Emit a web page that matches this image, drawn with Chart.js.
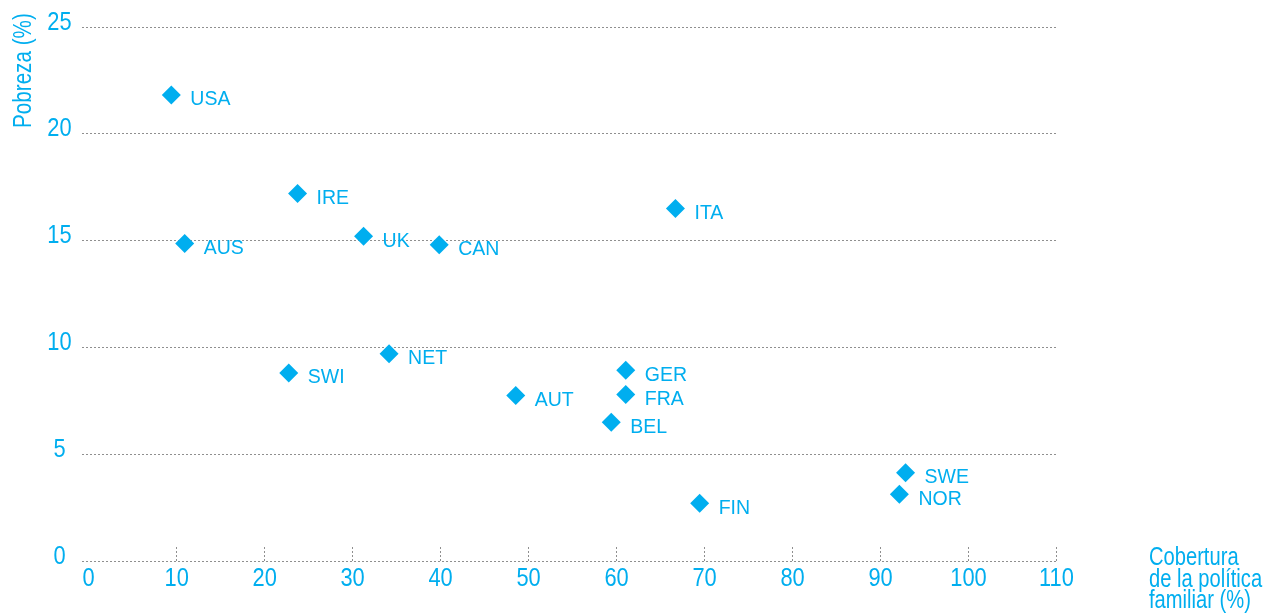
<!DOCTYPE html>
<html>
<head>
<meta charset="utf-8">
<script src="https://cdn.jsdelivr.net/npm/chart.js@4/dist/chart.umd.min.js"></script>
<style>
  html, body { margin: 0; padding: 0; background: #fff; }
  #wrap { width: 1275px; height: 616px; position: relative; }
</style>
</head>
<body>
<div id="wrap"><canvas id="c"></canvas></div>
<script>
const countries = ['USA','IRE','AUS','UK','CAN','ITA','NET','SWI','AUT','GER','FRA','BEL','SWE','NOR','FIN'];
const coverage  = [9.45, 23.8, 10.97, 31.3, 39.9, 66.75, 34.2, 22.8, 48.6, 61.1, 61.1, 59.45, 92.9, 92.2, 69.5];
const poverty   = [21.82, 17.2, 14.87, 15.2, 14.8, 16.5, 9.7, 8.8, 7.75, 8.93, 7.8, 6.5, 4.13, 3.13, 2.7];
const xTicks = [0,10,20,30,40,50,60,70,80,90,100,110];
const yTicks = [0,5,10,15,20,25];
const yTitle = 'Pobreza (%)';
const xTitle = ['Cobertura','de la política','familiar (%)'];

const BLUE = '#00AEEF';
const GRID = '#8f8f8f';
const SANS = '"Liberation Sans", Arial, Helvetica, sans-serif';

const points = coverage.map((x, i) => ({x: x, y: poverty[i]}));

function narrowText(ctx, text, x, y, size, sx, align) {
  ctx.save();
  ctx.translate(x, y);
  ctx.scale(sx, 1);
  ctx.font = size + 'px ' + SANS;
  ctx.textAlign = align;
  ctx.textBaseline = 'alphabetic';
  ctx.fillText(text, 0, 0);
  ctx.restore();
}

const decor = {
  id: 'decor',
  afterDraw(chart) {
    const ctx = chart.ctx;
    const xs = chart.scales.x, ys = chart.scales.y;
    const bottom = ys.getPixelForValue(0);
    // inward tick marks on x axis
    ctx.save();
    ctx.strokeStyle = GRID;
    ctx.lineWidth = 1;
    ctx.setLineDash([2,2]);
    xs.ticks.forEach(t => {
      if (t.value === 0) return;
      const px = Math.round(xs.getPixelForValue(t.value)) + 0.5;
      ctx.beginPath();
      ctx.moveTo(px, bottom - 14);
      ctx.lineTo(px, bottom);
      ctx.stroke();
    });
    ctx.restore();
    // tick labels (condensed look)
    ctx.save();
    ctx.fillStyle = BLUE;
    xs.ticks.forEach(t => {
      narrowText(ctx, String(t.value), xs.getPixelForValue(t.value) + 0.5, bottom + 25, 26, 0.84, 'center');
    });
    ys.ticks.forEach(t => {
      narrowText(ctx, String(t.value), 59.5, ys.getPixelForValue(t.value) + 2.5, 26, 0.84, 'center');
    });
    ctx.restore();
    // point labels
    const meta = chart.getDatasetMeta(0);
    ctx.save();
    ctx.fillStyle = BLUE;
    ctx.font = '19.5px ' + SANS;
    ctx.textBaseline = 'middle';
    ctx.textAlign = 'left';
    meta.data.forEach((el, i) => {
      ctx.fillText(countries[i], el.x + 19, el.y + 5);
    });
    ctx.restore();
    // axis titles
    ctx.save();
    ctx.fillStyle = BLUE;
    ctx.translate(31, 128);
    ctx.rotate(-Math.PI / 2);
    narrowText(ctx, yTitle, 0, 0, 25.5, 0.81, 'left');
    ctx.restore();
    ctx.save();
    ctx.fillStyle = BLUE;
    const baselines = [565, 587, 608];
    xTitle.forEach((t, i) => narrowText(ctx, t, 1149, baselines[i], 25.5, 0.79, 'left'));
    ctx.restore();
  }
};

new Chart(document.getElementById('c'), {
  type: 'scatter',
  data: {
    datasets: [{
      data: points,
      pointStyle: 'rectRot',
      pointRadius: 9.5,
      pointHoverRadius: 9.5,
      backgroundColor: BLUE,
      borderColor: BLUE,
      borderWidth: 0
    }]
  },
  options: {
    responsive: true,
    maintainAspectRatio: false,
    animation: false,
    events: [],
    layout: { padding: { top: 27, right: 219, bottom: 0, left: 0 } },
    plugins: { legend: { display: false }, tooltip: { enabled: false } },
    scales: {
      x: {
        type: 'linear',
        min: -0.7,
        max: 110,
        afterBuildTicks(scale) { scale.ticks = xTicks.map(v => ({value: v})); },
        afterFit(scale) { scale.height = 55; },
        grid: { display: false },
        border: { display: false },
        ticks: { display: false }
      },
      y: {
        type: 'linear',
        min: 0,
        max: 25,
        afterBuildTicks(scale) { scale.ticks = yTicks.map(v => ({value: v})); },
        afterFit(scale) { scale.width = 82; },
        grid: { display: true, color: GRID, lineWidth: 1, drawTicks: false },
        border: { display: false, dash: [2,2] },
        ticks: { display: false }
      }
    }
  },
  plugins: [decor]
});
</script>
</body>
</html>
